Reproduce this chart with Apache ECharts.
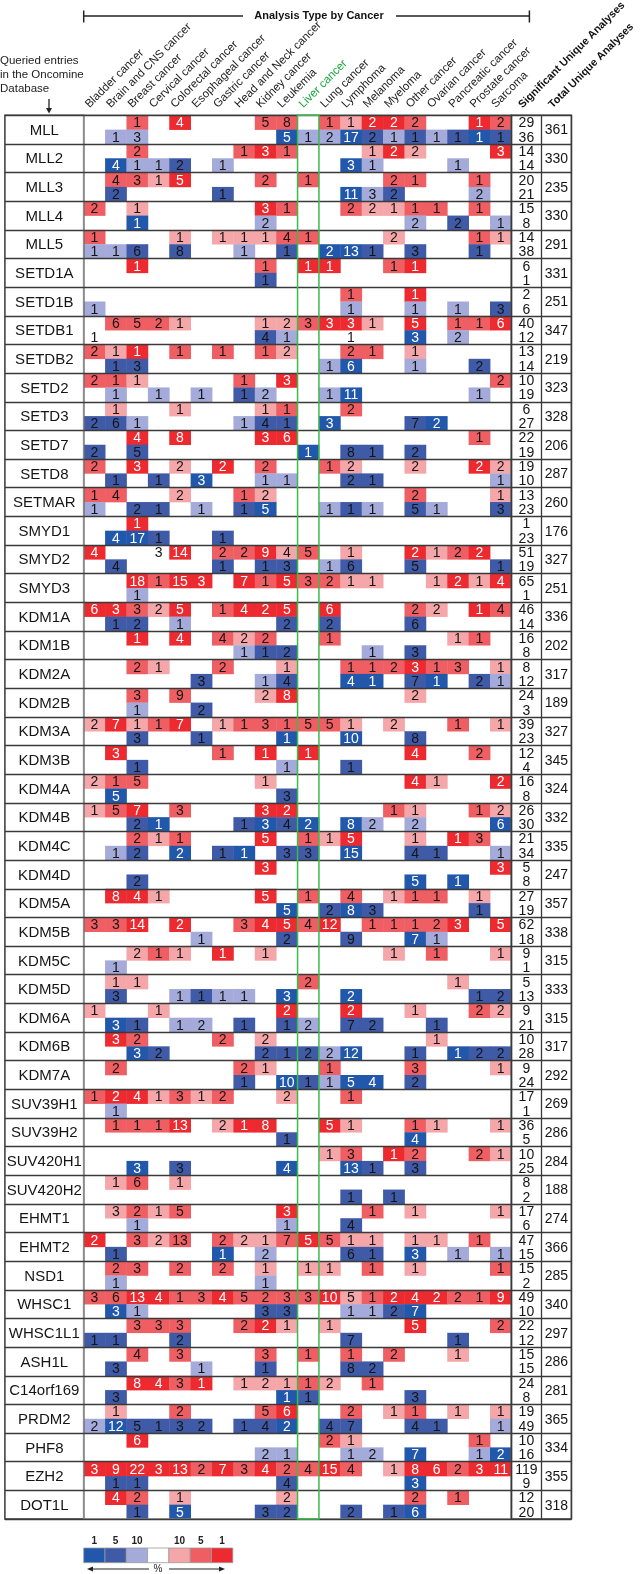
<!DOCTYPE html>
<html><head><meta charset="utf-8">
<script src="https://cdn.jsdelivr.net/npm/echarts@6/dist/echarts.min.js"></script>
<style>html,body{margin:0;padding:0;background:#fff}#c{width:640px;height:1574px}</style>
</head><body><div id="c"></div>
<script>
// ---------------- DATA ----------------
const genes = ['MLL','MLL2','MLL3','MLL4','MLL5','SETD1A','SETD1B','SETDB1','SETDB2','SETD2','SETD3','SETD7','SETD8','SETMAR','SMYD1','SMYD2','SMYD3','KDM1A','KDM1B','KDM2A','KDM2B','KDM3A','KDM3B','KDM4A','KDM4B','KDM4C','KDM4D','KDM5A','KDM5B','KDM5C','KDM5D','KDM6A','KDM6B','KDM7A','SUV39H1','SUV39H2','SUV420H1','SUV420H2','EHMT1','EHMT2','NSD1','WHSC1','WHSC1L1','ASH1L','C14orf169','PRDM2','PHF8','EZH2','DOT1L'];
const cancers = ['Bladder cancer','Brain and CNS cancer','Breast cancer','Cervical cancer','Colorectal cancer','Esophageal cancer','Gastric cancer','Head and Neck cancer','Kidney cancer','Leukemia','Liver cancer','Lung cancer','Lymphoma','Melanoma','Myeloma','Other cancer','Ovarian cancer','Pancreatic cancer','Prostate cancer','Sarcoma'];
// token = count + level (a: top 1%, b: top 5%, c: top 10%, w: uncoloured), "." = no analysis
const upCells = [
'. . 1b . 4a . . . 5b 8b . 1b 1c 2a 2a 2b . . 1a 2b',
'. . 2b . . . . 1b 3a 1b . . . 1c 2a 2c . . . 3a',
'. 4b 3b 1c 5a . . . 2b . 1b . . . 2b 1b . . 1b .',
'2b . 1c . . . . . 3a 1b . . 2b 2c 1c 1b 1b . 1b .',
'1b . . . 1c . 1c 1c 1c 4b 1b . . . 2c . . . 1b 1c',
'. . 1a . . . . . 1b . 1a 1a . . 1b 1a . . . .',
'. . . . . . . . . . . . 1b . . 1a . . . .',
'. 6b 5b 2b 1c . . . 1c 2c 3b 3a 3a 1c . 5a . 1b 1b 6a',
'2b 1c 1a . 1b . 1b . 1b 2c . . 2b 1b . 1c . . . .',
'2b 1b 1c . . . . 1b . 3a . . . . . . . . . 2b',
'. 1c . . 1c . . . 1c 1b . . 2b . . . . . . .',
'. . 4a . 8a . . . 3a 6a . . . . . . . . 1b .',
'2b . 3a . 2c . 2a . 2b . . 1b 2c . . 2c . . 2a 2c',
'1b 4b . . 2c . . 1b 2c . . . . . . 2b . . . 1c',
'. . 1a . . . . . . . . . . . . . . . . .',
'4a . . 3w 14a . 2b 2b 9a 4c 5b . 1c . . 2a 1c 2b 2a .',
'. . 18a 1b 15a 3a . 7a 1b 5a 3b 2b 1c 1c . . 1c 2a 1c 4a',
'6a 3a 3b 2c 5a . 1b 4a 2a 5a . 6a . . . 2b 2c . 1a 4b',
'. . 1a . 4a . 4b 2c 2b . . 1b . . . . . 1c 1b .',
'. . 2b 1c . . 2b . . 1c . . 1b 1b 2b 3a 1b 3b . 1c',
'. . 3b . 9b . . . 2c 8a . . . . . 2c . . . .',
'2c 7a 1c 1b 7a . 1c 1b 3b 1b 5b 5b 1c . 2c . . 1b . 1c',
'. 3a . . . . 1b . 1a . 1a . . . . 4a . . 2b .',
'2c 1b 5b . . . . . 1c . . . . . . 4a 1c . . 2a',
'1c 5b 7a . 3b . . . 3a 2a . . . . 1b 1c . . 1b 2c',
'. . 2b 1c 1b . . . 5a . 1b 1c 5a . . 1c . 1a 3b .',
'. . . . . . . . 3a . . . . . . . . . . 3a',
'. 8a 4a 1c . . . . 5a . 1b . 4b . 1c 1b 1b . 1c .',
'3b 3b 14a . 2a . . 3b 4a 5a 4b 12a . 1b 1b 1b 2b 3a . 5a',
'. . 2c 1b 1c . 1a . 1c . . . . . 1c . 1b . . 1c',
'. 1c 1c . . . . . . . 2b . . . . . . 1c . .',
'1c . . 1c . . . . . 2a . . 2a . . 1c . . 2b 2c',
'. 3a 2b . . . 2b . 2c . . . . . . . 1c . . .',
'. 2b . . . . . 2b 1c . . 1b . . . 3b . . . 1c',
'1b 2a 4a 1c 3b 1c 2b . . 2c . . 1b . . . . . . .',
'. 1b 1b 1b 13a . 2c 1a 8a . . 5a 1c . . 1b 1c . . 1c',
'. . . . . . . . . . . 1c 3b . 1a 2b . . 2b 1c',
'. 1c 6b . 1c . . . . . . . . . . . . . . .',
'. 3c 2b 1c 5b . . . . 3a . . . 1b . 1c . . . 1c',
'2a . 3b 2c 13b . 2b 2c 1c 7b 5a 5b 1c 1c . 1c 1c . 1b .',
'. 2b 3b . 2b . 2b . 1c . 1c 1c . 1b . 1c . . . 1b',
'3b 6b 13a 4a 1b 3b 4a 5b 2b 3b 3b 10a 5c 1b 2a 4a 2a 2b 1b 9a',
'. . 3b 3b 3b . . 2b 2a 1c . 1c . . . 5a . . . 2b',
'. . 4b . 3b . . . 3b . 1b . 1b . 2b . . 1c . .',
'. . 8a 4a 3b 1a . 1c 2c 1c 1b 2c . 1b . . . . . .',
'. 1c . . 2b . . . 5b 6a . . 2b . 1c 1b . 1c . 1c',
'. . 6a . . . . . . . . 2b 1c . . . . . 1b .',
'3a 9a 22a 3a 13a 2b 7a 3b 4a 2b 4b 15a 4b . 1c 8a 6a 2b 3a 11a',
'. 4a 2b . 1c . . . . 2c . . . . . 2b . 1b . .'
];
const downCells = [
'. 1c 3c . . . . . . 5a 1c 2c 17a 2b 1c 1b 1c 1b 1a 1b',
'. 4a 1c 1c 2b . 1c . . . . . 3a 1c . . . 1c . .',
'. 2b . . . . 1b . . . . . 11a 3c 2b . . . 2c .',
'. . 1a . . . . . 2c . . . . . . 2c . 2b . 1c',
'1c 1c 6b . 8b . . 1c . 1b . 2a 13a 1b . 3b . . 1b .',
'. . . . . . . . 1b . . . . . . . . . . .',
'1c . . . . . . . . . . . 1c . . 1c . 1c . 3b',
'1w . . . . . . . 4b 1c . . 1w . . 3a . 2c . .',
'. 1b 3b . . . . . . . . 1c 6a . . 1c . . 2b .',
'. 1c . 1c . 1c . 1b 2c . . 1c 11a . . . . . 1c .',
'2b 6b 1c . . . . 1c 4b 1b . 3a . . . 7b 2a . . .',
'2b . 5b . . . . . . . 1a . 8b 1b . 2b . . . .',
'. 1b . 1b . 3a . . 1c 1c . . 2b 1b . . . . . 1c',
'1c . 2b 1b . 1c . 1b 5a . . 1c 1b 1c . 5b 1c . . 3b',
'. 4a 17a 1b . . 1b . . . . . . . . . . . . .',
'. 4b . . . . 1b . 1b 3b . 1c 6b . . 5b . . . 1b',
'. . 1c . . . . . . . . . . . . . . . . .',
'. 1b 2b . 1c . . . . 2b . 2b . . . 6b . . . .',
'. . . . . . . 1c 1b 2b . . . 1c . 3b . . . .',
'. . . . . 3b . . 1c 4b . . 4a 1a . 7b 1a . 2b 1c',
'. . 1c . . 2b . . . . . . . . . . . . . .',
'. . 3b . . 1b . . . 1a . . 10a . . 8b . . . .',
'. . 1b . . . . . . 1c . . 1b . . . . . . .',
'. 5a . . . . . . . 3b . . . . . . . . . .',
'. . 2b 1a . . . 1b 3a 4b 2a . 8a 2c . 2c . . . 6a',
'. 1c 2b . 2a . 1b 1a . 3b 3b . 15a . . 4b 1b . . 1c',
'. . 2b . . . . . . . . . . . . 5a . 1a . .',
'. . . . . . . . . 5a . 2b 8a 3b . . . . 1b .',
'. . . . . 1c . . . 2b . . 9b . . 7a 1c . . .',
'. 1c . . . . . . . . . . . . . . . . . .',
'. 3b . . 1c 1b 1c 1c . 3a . . 2a . . . . . 1b 2b',
'. 3a 1b . 1c 2c . 1b . 1b 2c . 7b 2b . . 1b . . .',
'. . 3a 2b . . . . 2b 1b 2b 2c 12a . . 1b . 1a 2b 2b',
'. . . . . . . 1b . 10a 1b 1c 5a 4a . 2b . . . .',
'. 1c . . . . . . . . . . . . . . . . . .',
'. . . . . . . . . 1b . . . . . 4a . . . .',
'. . 3a . 3b . . . . 4a . . 13a 1b . 3b . . . .',
'. . . . . . . . . . . . 1b . 1b . . . . .',
'. . 1c . . . . . . 1c . . 4b . . . . . . .',
'. 1b . . . . 1a . 2c . . . 6b 1b . 3a . 1c . 1c',
'. 1c . . . . . . 1c . . . . . . . . . . .',
'. 3a 1c . . . . . 3b 3b . . 1c 1c 2b 7a . . . .',
'1b 1b . . 2b . . . . . . . 7b . . . . 1b . .',
'. 3b . . . 1c . . 1b . . . 8b 2b . . . . . .',
'. 3b . . . . . . . 1a 1b . . . . 3b . . . .',
'2c 12a 5b 1b 3b 2b . 1b 4b 2a . 4b 7b . . 4b 1b . . 1c',
'. . . . . . . . 2c 1c . . 1c 2c . 7a . . 1c 2a',
'. 1b 1b . . . . . . 4b . . . . . 3a . . . .',
'. . 1b . 5a . . . 3b 2b . . 2b . 1b 6a . . . .'
];
const sigUp   = [29,14,20,15,14,6,2,40,13,10,6,22,19,13,1,51,65,46,16,8,24,39,12,16,26,21,5,27,62,9,5,9,10,9,17,36,10,8,17,47,15,49,22,15,24,19,10,119,12];
const sigDown = [36,14,21,8,38,1,6,12,14,19,27,19,10,23,23,19,1,14,8,12,3,23,4,8,30,34,8,19,18,1,13,21,28,24,1,5,25,2,6,15,2,10,12,15,8,49,16,9,20];
const totalAnalyses = [361,330,235,330,291,331,251,347,219,323,328,206,287,260,176,327,251,336,202,317,189,327,345,324,332,335,247,357,338,315,333,315,317,292,269,286,284,188,274,366,285,340,297,286,281,365,334,355,318];
const countHeaders = ['Significant Unique Analyses','Total Unique Analyses'];
const legendLabels = ['1','5','10','','10','5','1'];

// ---------------- STYLE ----------------
const FONT = '"Liberation Sans", Arial, Helvetica, sans-serif';
const LEVEL = {a:1, b:2, c:3, w:0};
const palette = [
  ['#ffffff','#ed2a2f','#ef5e62','#f5a6a9'],   // up (red)
  ['#ffffff','#2158ac','#3f5aa7','#a4aad9']    // down (blue)
];
const legendColors = ['#2158ac','#3f5aa7','#a4aad9','#ffffff','#f5a6a9','#ef5e62','#ed2a2f'];

const TOP = 115.3, HGT = 1403.7;
const G0L = 4.9, G0W = 78.8, G1L = 83.7, G1W = 427.7, G2L = 511.4, G2W = 60;
const LINE = '#3a3a3a';

// build cell data
const cellData = [];
[upCells, downCells].forEach((rows, dir) => {
  rows.forEach((str, r) => {
    str.trim().split(/\s+/).forEach((tok, c) => {
      if (tok === '.') return;
      const m = tok.match(/^(\d+)([abcw])$/);
      if (m) cellData.push([c, r, +m[1], LEVEL[m[2]], dir]);
    });
  });
});
const countData = [];
genes.forEach((g, i) => {
  countData.push([0.5, i, sigUp[i], 0]);
  countData.push([0.5, i, sigDown[i], 1]);
  countData.push([1.5, i, totalAnalyses[i], 2]);
});

function yAxisFor(gi) {
  return {
    gridIndex: gi, type: 'category', data: genes, inverse: true, z: 10,
    axisLine: {show: false}, axisTick: {show: false}, axisLabel: {show: false},
    splitLine: {show: true, interval: 0, lineStyle: {color: LINE, width: 1.3}}
  };
}

function headerRenderer(labels, fontSpec, dx, colorFn) {
  return function (params, api) {
    const idx = params.dataIndex;
    const p = api.coord([api.value(0), 0]);
    const cs = params.coordSys;
    return {
      type: 'text', x: p[0] + dx, y: cs.y - 5, rotation: Math.PI / 4,
      style: {text: labels[idx], x: 0, y: 0, align: 'left', verticalAlign: 'bottom',
        font: fontSpec, fill: colorFn(labels[idx])}
    };
  };
}

const chart = echarts.init(document.getElementById('c'), null, {renderer: 'canvas'});
const option = {
  animation: false,
  backgroundColor: '#ffffff',
  grid: [
    {left: G0L, top: TOP, width: G0W, height: HGT, show: true, borderColor: LINE, borderWidth: 1.5, z: 10},
    {left: G1L, top: TOP, width: G1W, height: HGT, show: true, borderColor: '#8c8c8c', borderWidth: 1.5, z: 10},
    {left: G2L, top: TOP, width: G2W, height: HGT, show: true, borderColor: LINE, borderWidth: 1.5, z: 10}
  ],
  xAxis: [
    {gridIndex: 0, type: 'value', min: 0, max: 1, position: 'bottom', show: false},
    {gridIndex: 1, type: 'value', min: 0, max: 20, position: 'bottom', show: false},
    {gridIndex: 2, type: 'value', min: 0, max: 2, interval: 1, position: 'bottom',
      axisLine: {show: false}, axisTick: {show: false}, axisLabel: {show: false},
      splitLine: {show: true, lineStyle: {color: LINE, width: 1.3}}, z: 10}
  ],
  yAxis: [yAxisFor(0), yAxisFor(1), yAxisFor(2)],
  series: [
    { // heat cells
      type: 'custom', xAxisIndex: 1, yAxisIndex: 1, z: 2,
      encode: {x: 0, y: 1},
      data: cellData,
      renderItem(params, api) {
        const col = api.value(0), row = api.value(1), cnt = api.value(2), lvl = api.value(3), dir = api.value(4);
        const p = api.coord([col, row]);
        const s = api.size([1, 1]);
        const w = s[0], h = s[1] / 2;
        const x = p[0], y = dir === 0 ? p[1] - h : p[1];
        const children = [];
        if (lvl > 0) children.push({type: 'rect', shape: {x: x, y: y, width: w + 0.4, height: h + 0.3}, style: {fill: palette[dir][lvl]}});
        children.push({type: 'text', style: {text: String(cnt), x: x + w / 2, y: y + h / 2 + 1, align: 'center', verticalAlign: 'middle',
          font: '14px ' + FONT, fill: lvl === 1 ? '#ffffff' : '#151515'}});
        return {type: 'group', children};
      }
    },
    { // liver highlight box
      type: 'custom', xAxisIndex: 1, yAxisIndex: 1, z: 30, silent: true,
      encode: {x: 0, y: 1},
      data: [[cancers.indexOf('Liver cancer'), 0]],
      renderItem(params, api) {
        const c = api.value(0);
        const x0 = api.coord([c, 0])[0], x1 = api.coord([c + 1, 0])[0];
        const cs = params.coordSys;
        return {type: 'rect', shape: {x: x0, y: cs.y, width: x1 - x0, height: cs.height},
          style: {fill: 'none', stroke: '#3dba4e', lineWidth: 1.5}};
      }
    },
    { // cancer column headers
      type: 'custom', xAxisIndex: 1, yAxisIndex: 1, z: 5, silent: true,
      encode: {x: 0, y: 1},
      data: cancers.map((c, i) => [i + 0.5, 0]),
      renderItem: headerRenderer(cancers, '11.5px ' + FONT, -3, (t) => t === 'Liver cancer' ? '#19a53c' : '#222')
    },
    { // count column headers
      type: 'custom', xAxisIndex: 2, yAxisIndex: 2, z: 5, silent: true,
      encode: {x: 0, y: 1},
      data: countHeaders.map((c, i) => [i + 0.5, 0]),
      renderItem: headerRenderer(countHeaders, 'bold 10.8px ' + FONT, -2, () => '#111')
    },
    { // gene labels
      type: 'custom', xAxisIndex: 0, yAxisIndex: 0, z: 5,
      encode: {x: 0, y: 1},
      data: genes.map((g, i) => [0.5, i]),
      renderItem(params, api) {
        const p = api.coord([api.value(0), api.value(1)]);
        return {type: 'text', style: {text: genes[api.value(1)], x: p[0], y: p[1] + 1, align: 'center', verticalAlign: 'middle',
          font: '15px ' + FONT, fill: '#151515'}};
      }
    },
    { // significant / total counts
      type: 'custom', xAxisIndex: 2, yAxisIndex: 2, z: 5,
      encode: {x: 0, y: 1},
      data: countData,
      renderItem(params, api) {
        const p = api.coord([api.value(0), api.value(1)]);
        const bh = api.size([1, 1])[1];
        const pos = api.value(3);
        const dy = pos === 0 ? -bh / 4 : (pos === 1 ? bh / 4 : 0);
        return {type: 'text', style: {text: String(api.value(2)), x: p[0], y: p[1] + dy + 1, align: 'center', verticalAlign: 'middle',
          font: '14px ' + FONT, fill: '#151515'}};
      }
    }
  ],
  graphic: []
};

// header bar + title
const g = option.graphic;
g.push({type: 'text', style: {text: 'Analysis Type by Cancer', x: 319, y: 16, align: 'center', verticalAlign: 'middle', font: 'bold 11px ' + FONT, fill: '#111'}});
g.push({type: 'line', shape: {x1: G1L, y1: 16, x2: 243, y2: 16}, style: {stroke: '#222', lineWidth: 1.3}});
g.push({type: 'line', shape: {x1: 396, y1: 16, x2: 529.4, y2: 16}, style: {stroke: '#222', lineWidth: 1.3}});
g.push({type: 'line', shape: {x1: G1L, y1: 10.5, x2: G1L, y2: 22.5}, style: {stroke: '#222', lineWidth: 1.5}});
g.push({type: 'line', shape: {x1: 529.4, y1: 10.5, x2: 529.4, y2: 22.5}, style: {stroke: '#222', lineWidth: 1.5}});
// left caption
['Queried entries', 'in the Oncomine', 'Database'].forEach((t, i) => {
  g.push({type: 'text', left: 0, top: 55 + i * 14, style: {text: t, font: '11.5px ' + FONT, fill: '#222'}});
});
g.push({type: 'line', shape: {x1: 49, y1: 99, x2: 49, y2: 111}, style: {stroke: '#222', lineWidth: 1.3}});
g.push({type: 'polygon', shape: {points: [[46, 108], [52, 108], [49, 113.5]]}, style: {fill: '#222'}});
// legend
const LX = G1L, LW = 21.3, LY = 1548, LH = 14.7;
legendColors.forEach((col, k) => {
  g.push({type: 'rect', shape: {x: LX + k * LW, y: LY, width: LW, height: LH}, style: {fill: col, stroke: '#9a9a9a', lineWidth: 0.8}});
  if (legendLabels[k]) g.push({type: 'text', style: {text: legendLabels[k], x: LX + k * LW + LW / 2, y: LY - 7, align: 'center', verticalAlign: 'middle', font: 'bold 10px ' + FONT, fill: '#222'}});
});
g.push({type: 'line', shape: {x1: 89, y1: 1569, x2: 149, y2: 1569}, style: {stroke: '#222', lineWidth: 1}});
g.push({type: 'polygon', shape: {points: [[87, 1569], [93, 1566.5], [93, 1571.5]]}, style: {fill: '#222'}});
g.push({type: 'line', shape: {x1: 169, y1: 1569, x2: 223, y2: 1569}, style: {stroke: '#222', lineWidth: 1}});
g.push({type: 'polygon', shape: {points: [[225, 1569], [219, 1566.5], [219, 1571.5]]}, style: {fill: '#222'}});
g.push({type: 'text', style: {text: '%', x: 158, y: 1569, align: 'center', verticalAlign: 'middle', font: '10px ' + FONT, fill: '#222'}});

chart.setOption(option);
</script>
</body></html>
